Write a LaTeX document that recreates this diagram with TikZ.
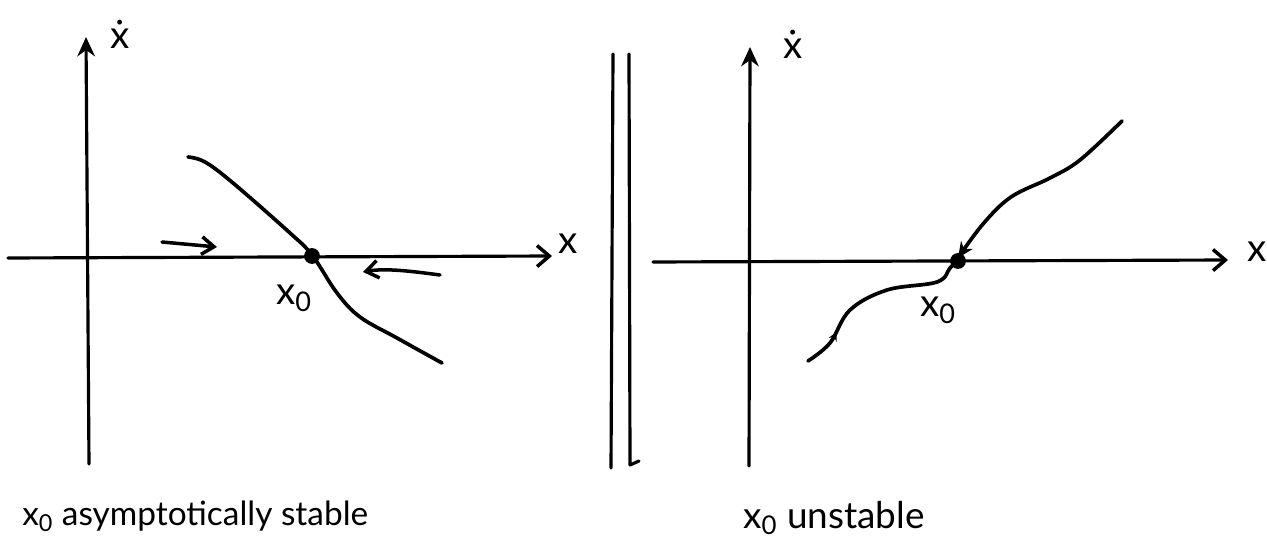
\documentclass[tikz,border=0pt]{standalone}
\usepackage{fontspec}
\setmainfont{Lato}
\usetikzlibrary{arrows.meta,decorations.markings}
\begin{document}
\begin{tikzpicture}[x=0.02cm,y=-0.02cm,
  axisline/.style={line width=1.8pt,line cap=round},
  curveline/.style={line width=2.1pt,line cap=round,line join=round},
  flowarrow/.style={line width=2pt,line cap=round,-{Straight Barb[length=7pt,width=10pt,line width=2pt]}},
  vtip/.style={-{Stealth[length=11pt,width=10pt]}},
  htip/.style={-{Straight Barb[length=7pt,width=12pt,line width=2pt]}},
  fixpt/.style={circle,fill=black,inner sep=0pt,minimum size=9pt},
  axlabel/.style={font=\fontsize{22}{24}\selectfont,inner sep=0pt},
  caption/.style={font=\fontsize{19}{22}\selectfont,inner sep=0pt,anchor=base west}]
\useasboundingbox (0,0) rectangle (1267,560);
% ---------- left panel ----------
\coordinate (lyb) at (89,464);
\coordinate (lyt) at (86,37);
\coordinate (lxl) at (8,258);
\coordinate (lxr) at (552,256);
\draw[axisline,vtip] (lyb) -- (lyt);
\draw[axisline,htip] (lxl) -- (lxr);
\node[axlabel] (lxlab) at (568,244) {x};
\node[axlabel] (lylab) at (120,34) {ẋ};
\draw[curveline] plot[smooth,tension=0.6] coordinates {(188,157) (205,162) (233,183) (290,233) (312,255) (337,293) (360,317) (397,338) (442,363)};
\node[fixpt] (lx0) at (312,256) {};
\node[axlabel] (lx0lab) at (294,298) {x\textsubscript{0}};
\coordinate (la1) at (162,242);
\coordinate (la2) at (217,247);
\draw[flowarrow] (la1) -- (la2);
\coordinate (lb1) at (440,275);
\coordinate (lb2) at (363,272);
\draw[flowarrow] (lb1) .. controls (410,271) and (385,268) .. (lb2);
\node[caption] (lcap) at (22,525) {x\textsubscript{0} asymptotically stable};
% ---------- separator ----------
\coordinate (s1t) at (613,54);
\coordinate (s1b) at (611,468);
\coordinate (s2t) at (629,54);
\coordinate (s2b) at (630,465);
\coordinate (s2h) at (639,461);
\draw[axisline] (s1t) -- (s1b);
\draw[axisline,line join=round] (s2t) -- (s2b) -- (s2h);
% ---------- right panel ----------
\coordinate (ryb) at (749,466);
\coordinate (ryt) at (750,47);
\coordinate (rxl) at (653,262);
\coordinate (rxr) at (1228,260);
\draw[axisline,vtip] (ryb) -- (ryt);
\draw[axisline,htip] (rxl) -- (rxr);
\node[axlabel] (rxlab) at (1257,252) {x};
\node[axlabel] (rylab) at (793,44) {ẋ};
\node[fixpt] (rx0) at (958,261) {};
\draw[curveline,decoration={markings,mark=at position 0.22 with {\arrow{Stealth[length=5pt,width=5pt]}}},postaction={decorate}]
  plot[smooth,tension=0.6] coordinates {(808,361) (830,343) (850,310) (887,290) (937,282) (950,268) (956,262)};
\draw[curveline,-{Stealth[length=9pt,width=8pt]}]
  plot[smooth,tension=0.6] coordinates {(1122,121) (1080,160) (1050,178) (1011,197) (983,224) (958,258)};
\node[axlabel] (rx0lab) at (938,310) {x\textsubscript{0}};
\node[caption,font=\fontsize{21}{24}\selectfont] (rcap) at (743,528) {x\textsubscript{0} unstable};
\end{tikzpicture}
\end{document}
